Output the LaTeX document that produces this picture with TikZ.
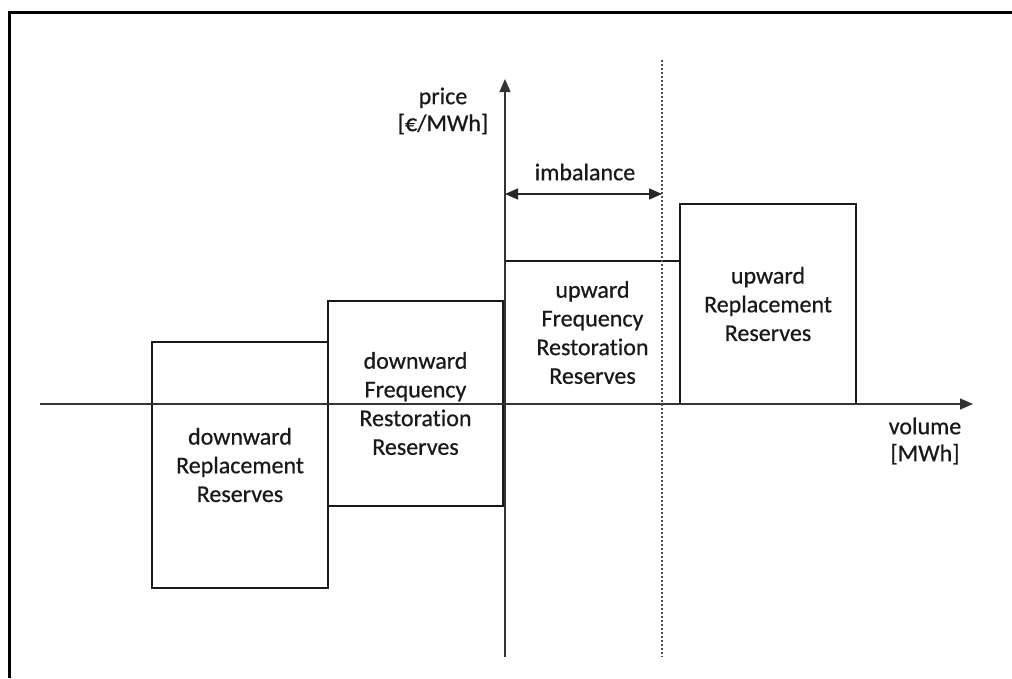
\documentclass[tikz,border=0pt]{standalone}
\usepackage{fontspec}
\setmainfont{Carlito}[Ligatures=NoCommon,FakeBold=0.6]
\usetikzlibrary{arrows.meta}
\begin{document}
\begin{tikzpicture}[x=1pt,y=-1pt,
  boxnode/.style={draw=black!90,line width=2pt,align=center,inner sep=0pt,
     font=\fontsize{24}{28.7}\selectfont,text=black!90},
  lbl/.style={align=center,font=\fontsize{24}{27}\selectfont,text=black!90},
  axis/.style={draw=black!80,line width=1.3pt,-{Triangle[length=13pt,width=11pt]}},
  frameline/.style={line width=3pt,black}]
\useasboundingbox (0,0) rectangle (1012,678);
% frame
\draw[frameline] (9,678) -- (9,12) -- (1012,12);
% boxes
\node[boxnode,minimum width=176pt,minimum height=246pt] (drr) at (240,465) {downward\\Replacement\\Reserves};
\node[boxnode,minimum width=175pt,minimum height=205pt] (dfrr) at (415.5,403.5) {downward\\Frequency\\Restoration\\Reserves};
\node[boxnode,minimum width=175pt,minimum height=143pt] (ufrr) at (592.5,332.5) {upward\\Frequency\\Restoration\\Reserves};
\node[boxnode,minimum width=176pt,minimum height=200pt] (urr) at (768,304) {upward\\Replacement\\Reserves};
% axes
\coordinate (xs) at (40,404);
\coordinate (xe) at (973,404);
\coordinate (ys) at (505,657);
\coordinate (ye) at (505,79);
\draw[axis] (xs) -- (xe);
\draw[axis] (ys) -- (ye);
% dotted line
\coordinate (ds) at (662,60);
\coordinate (de) at (662,657);
\draw[black!70,line width=1.2pt,dash pattern=on 2pt off 2pt] (ds) -- (de);
% imbalance
\coordinate (ia) at (505,194);
\coordinate (ib) at (662,194);
\draw[black!85,line width=1.5pt,{Triangle[length=13pt,width=11pt]}-{Triangle[length=13pt,width=11pt]}] (ia) -- (ib);
\node[lbl] (imb) at (585,172) {imbalance};
% labels
\node[lbl] (price) at (443,111) {price\\{[€/MWh]}};
\node[lbl] (vol) at (925,441) {volume\\{[MWh]}};
\end{tikzpicture}
\end{document}
